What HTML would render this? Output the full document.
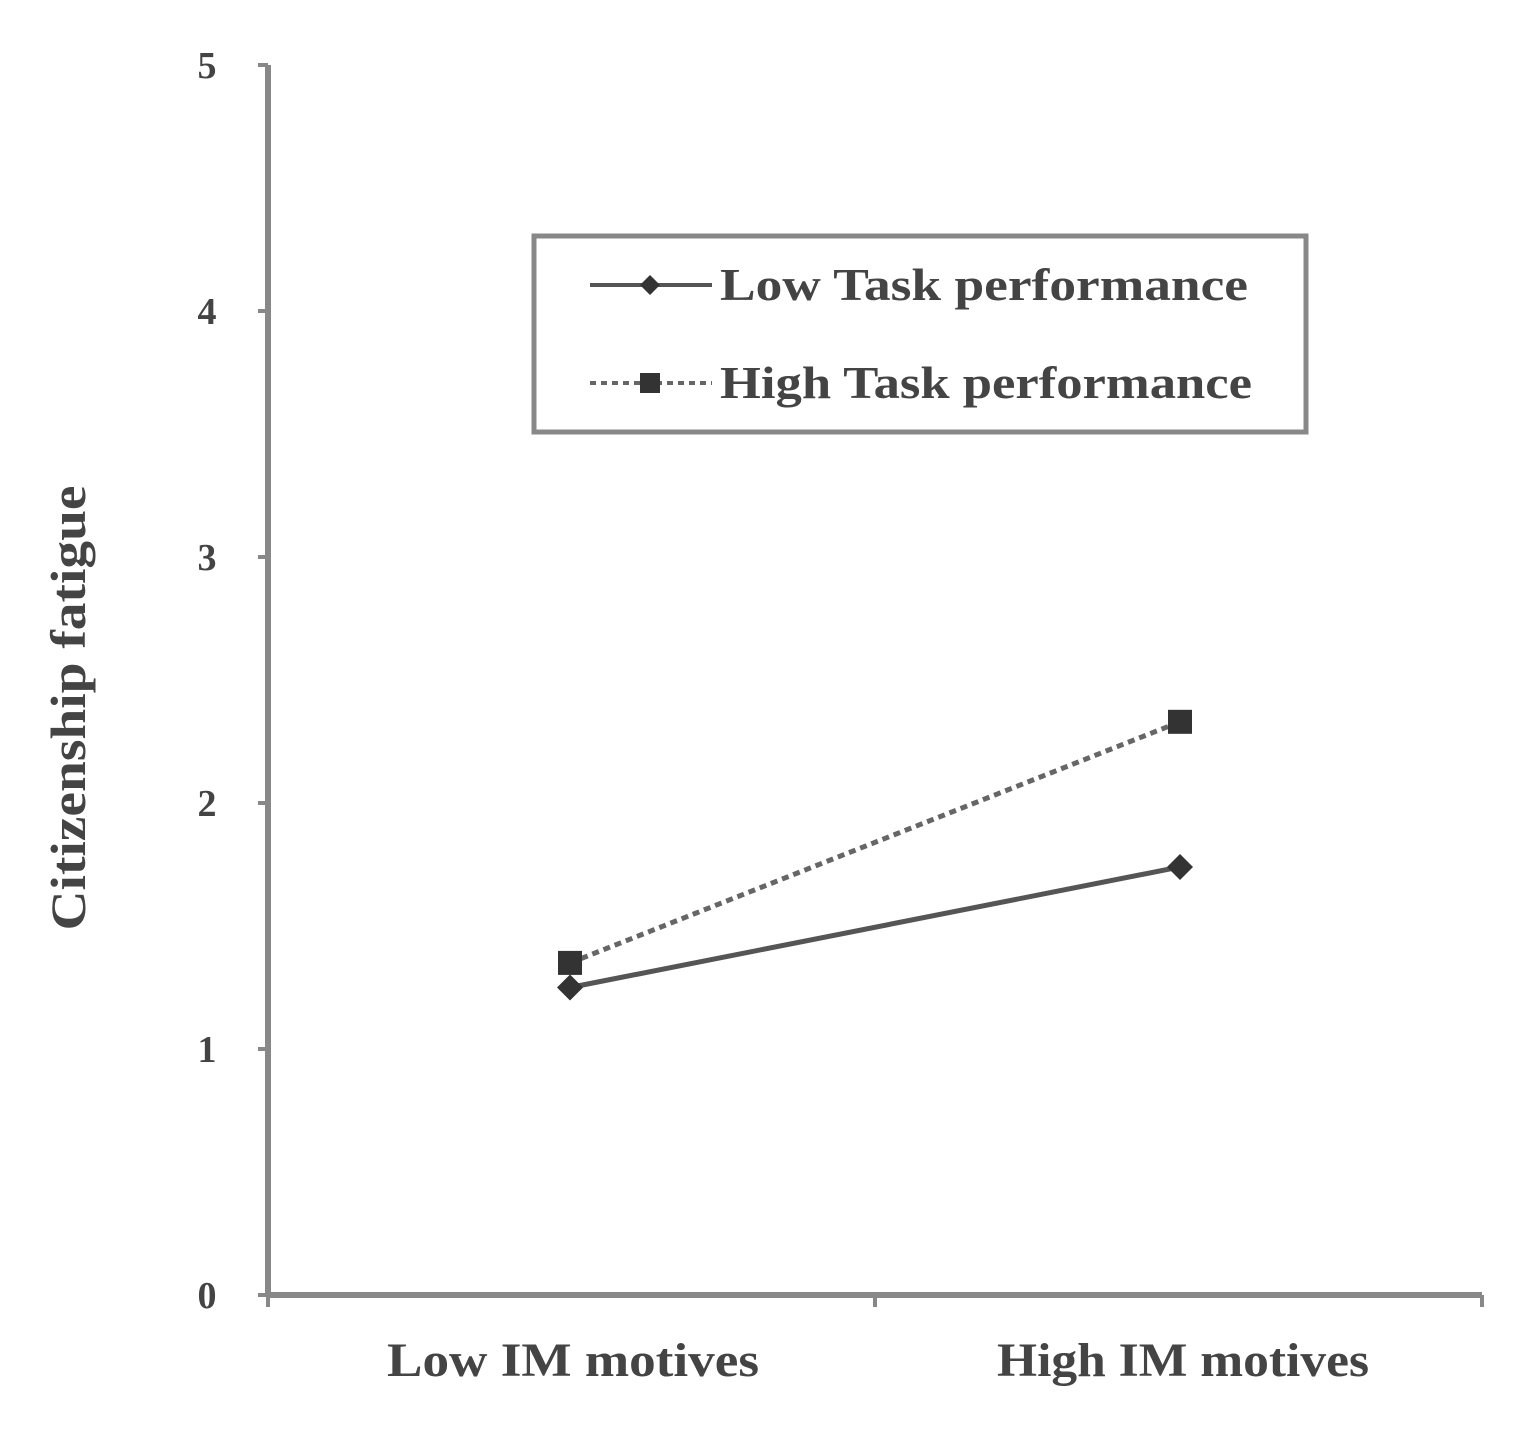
<!DOCTYPE html>
<html><head><meta charset="utf-8"><style>
html,body{margin:0;padding:0;background:#fff;}
svg{display:block;}
text{font-family:"Liberation Serif",serif;font-weight:bold;fill:#444;}
</style></head><body>
<svg id="chart" width="1528" height="1430" viewBox="0 0 1528 1430">
<g id="axes"></g>
<g id="plot"></g>
<g id="legend">
<rect x="534" y="236" width="772" height="196" fill="none" stroke="#888" stroke-width="5"/>
<line x1="590" y1="285" x2="712" y2="285" stroke="#555" stroke-width="4"/>
<path d="M650 275 L660 285 L650 295 L640 285 Z" fill="#333"/>
<text x="720" y="300" font-size="46" textLength="528" lengthAdjust="spacingAndGlyphs">Low Task performance</text>
<line x1="590" y1="383" x2="712" y2="383" stroke="#666" stroke-width="4" stroke-dasharray="6,5"/>
<rect x="640" y="373" width="20" height="20" fill="#333"/>
<text x="720" y="398" font-size="46" textLength="532" lengthAdjust="spacingAndGlyphs">High Task performance</text>
</g>
<text x="0" y="0" font-size="50" text-anchor="middle" textLength="445" lengthAdjust="spacingAndGlyphs" transform="translate(85,708) rotate(-90)">Citizenship fatigue</text>
</svg>
<script>
const categories = ["Low IM motives", "High IM motives"];
const lowTask = [1.25, 1.74];
const highTask = [1.35, 2.33];
const yTicks = [0, 1, 2, 3, 4, 5];

const NS = "http://www.w3.org/2000/svg";
const y0 = 1295, yTop = 65, xLeft = 268, xRight = 1482;
function yScale(v){ return y0 - (v/5)*(y0 - yTop); }
function xScale(i){ return 570 + i*610; }
function mk(tag, attrs, parent){
  const e = document.createElementNS(NS, tag);
  for (const k in attrs) e.setAttribute(k, attrs[k]);
  parent.appendChild(e); return e;
}
const axes = document.getElementById('axes');
const plot = document.getElementById('plot');
let el = mk('line',{x1:xLeft,y1:yTop,x2:xLeft,y2:y0,stroke:'#888','stroke-width':6},axes);


el = mk('line',{x1:xLeft,y1:y0,x2:xRight,y2:y0,stroke:'#888','stroke-width':6},axes);


yTicks.forEach(t=>{
  const y = yScale(t);
  let tk = mk('line',{x1:xLeft-10,y1:y,x2:xLeft,y2:y,stroke:'#888','stroke-width':4},axes);
  
  
  let tx = mk('text',{x:207,y:y+13,'font-size':38,'text-anchor':'middle'},axes);
  tx.textContent = t;
  
  
});
[xLeft, 875, xRight].forEach(x=>{
  let tk = mk('line',{x1:x,y1:y0,x2:x,y2:y0+12,stroke:'#888','stroke-width':4},axes);
  
  
});
categories.forEach((c,i)=>{
  let tx = mk('text',{x:xScale(i)+3,y:1376,'font-size':48,'text-anchor':'middle',textLength:372,lengthAdjust:'spacingAndGlyphs'},axes);
  tx.textContent = c;
  
  
});
function series(vals, dashed, square, name){
  const pts = vals.map((v,i)=>xScale(i)+','+yScale(v)).join(' ');
  let pl = mk('polyline',{points:pts,fill:'none',stroke:dashed?'#666':'#555','stroke-width':5},plot);
  if (dashed) pl.setAttribute('stroke-dasharray','7,5');
  
  
  vals.forEach((v,i)=>{
    const x = xScale(i), y = yScale(v);
    let m;
    if (square) m = mk('rect',{x:x-12,y:y-12,width:24,height:24,fill:'#333'},plot);
    else m = mk('path',{d:`M${x} ${y-13} L${x+13} ${y} L${x} ${y+13} L${x-13} ${y} Z`,fill:'#333'},plot);
    
    
  });
}
series(highTask, true, true, 'high-task');
series(lowTask, false, false, 'low-task');
</script>
</body></html>
